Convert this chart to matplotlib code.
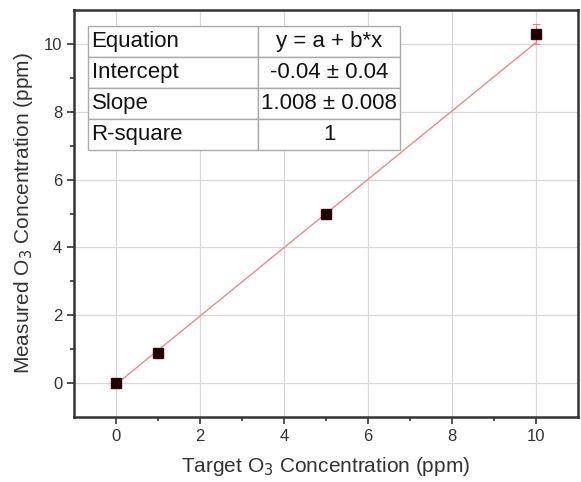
import matplotlib
matplotlib.use("Agg")
import matplotlib.pyplot as plt
import numpy as np

plt.rcParams['font.family'] = ['Liberation Sans', 'DejaVu Sans']

# data
target = [0, 1, 5, 10]
measured = [0.0, 0.9, 5.0, 10.3]
err = [0.05, 0.05, 0.05, 0.3]
intercept = -0.04
slope = 1.008
table_rows = [["Equation", "y = a + b*x"],
              ["Intercept", "-0.04 \u00b1 0.04"],
              ["Slope", "1.008 \u00b1 0.008"],
              ["R-square", "1"]]

fig = plt.figure(figsize=(5.81, 4.82), dpi=100)
ax = fig.add_axes([74 / 581, 65 / 482, 504 / 581, 407 / 482])

# fit line
xf = np.array([target[0], target[-1]])
ax.plot(xf, intercept + slope * xf, color="#f08888", lw=1, zorder=2)

ax.errorbar(target, measured, yerr=err, fmt="s", ms=7, mfc="#1a0000",
            mec="#3a0000", ecolor="#e88080", elinewidth=0.8, capsize=3,
            capthick=0.8, zorder=3)

ax.set_xlim(-1, 11)
ax.set_ylim(-1, 11)
ax.set_xticks([0, 2, 4, 6, 8, 10])
ax.set_yticks([0, 2, 4, 6, 8, 10])
ax.set_xticks([1, 3, 5, 7, 9], minor=True)
ax.set_yticks([1, 3, 5, 7, 9], minor=True)
ax.grid(True, which="major", color="#d8d8d8", lw=0.9, zorder=0)
ax.set_axisbelow(True)
ax.tick_params(which="major", direction="out", length=5, width=1.2,
               labelsize=12, colors="#333333")
ax.tick_params(which="minor", direction="out", length=3, width=1.2,
               colors="#333333")
for sp in ax.spines.values():
    sp.set_linewidth(1.8)
    sp.set_color("#333333")

ax.set_xlabel("Target O$_3$ Concentration (ppm)", fontsize=15,
              color="#333333", labelpad=8)
ax.set_ylabel("Measured O$_3$ Concentration (ppm)", fontsize=15,
              color="#333333", labelpad=6)

tbl = ax.table(cellText=table_rows, cellLoc="center",
               colWidths=[0.545, 0.455],
               bbox=[0.028, 0.656, 0.619, 0.305])
tbl.set_zorder(5)
tbl.auto_set_font_size(False)
tbl.set_fontsize(16)
for (r, c), cell in tbl.get_celld().items():
    cell.set_edgecolor("#aaaaaa")
    cell.set_linewidth(1.0)
    cell.set_facecolor("white")
    cell.get_text().set_color("#111111")
    if c == 0:
        cell.get_text().set_ha("left")
        cell.PAD = 0.02

fig.savefig("out.png", dpi=100)
